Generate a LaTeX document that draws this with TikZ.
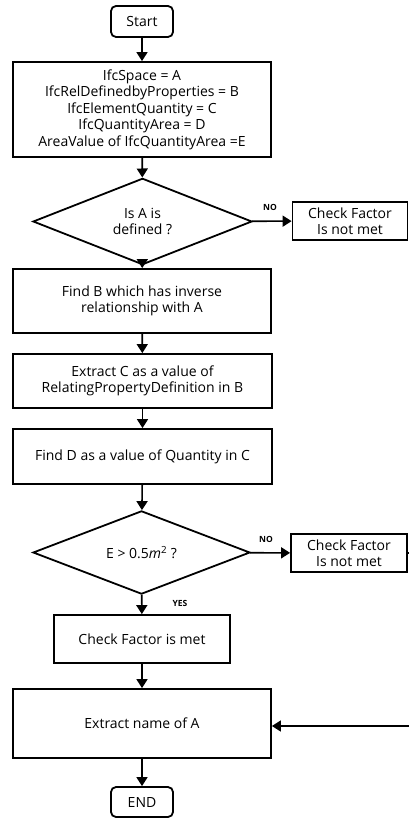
\documentclass[tikz,border=0pt]{standalone}
\usepackage{fontspec}
\setmainfont{Open Sans}
\usetikzlibrary{shapes.geometric,arrows.meta}
\begin{document}
\begin{tikzpicture}[x=1pt,y=-1pt,
  box/.style={draw,line width=1.8pt,rectangle,align=center,inner sep=1pt,font=\fontsize{14}{16.5}\selectfont},
  term/.style={box,rounded corners=5pt},
  dec/.style={draw,line width=1.8pt,diamond,inner sep=0pt,align=center,font=\fontsize{14}{16.5}\selectfont},
  arr/.style={line width=1.6pt,-{Triangle[length=9pt,width=11pt]}},
  lab/.style={font=\fontsize{8.5}{10}\selectfont\bfseries}]
\useasboundingbox (0,0) rectangle (409,818);
\node[term,minimum width=62pt,minimum height=31pt] (start) at (142,21.5) {Start};
\node[box,minimum width=258pt,minimum height=95pt] (b1) at (142,109.5) {IfcSpace = A\\IfcRelDefinedbyProperties = B\\IfcElementQuantity = C\\IfcQuantityArea = D\\AreaValue of IfcQuantityArea =E};
\node[dec,minimum width=219pt,minimum height=73pt] (d1) at (142.5,221.5) {Is A is\\defined ?};
\node[box,minimum width=115pt,minimum height=38pt] (cf1) at (350,221) {Check Factor\\Is not met};
\node[box,minimum width=258pt,minimum height=64pt] (b2) at (142,301) {Find B which has inverse\\relationship with A};
\node[box,minimum width=259pt,minimum height=54pt] (b3) at (142.5,381) {Extract C as a value of\\RelatingPropertyDefinition in B};
\node[box,minimum width=259pt,minimum height=55pt] (b4) at (142.5,456.5) {Find D as a value of Quantity in C};
\node[dec,minimum width=217pt,minimum height=75pt] (d2) at (141.5,552.5) {E > 0.5\textit{m}\textsuperscript{2} ?};
\node[box,minimum width=116pt,minimum height=38pt] (cf2) at (349,553) {Check Factor\\Is not met};
\node[box,minimum width=176pt,minimum height=48pt] (b5) at (142,639) {Check Factor is met};
\node[box,minimum width=258pt,minimum height=69pt] (b6) at (142,723.5) {Extract name of A};
\node[term,minimum width=62pt,minimum height=30pt] (end) at (142,802) {END};
\coordinate (in6) at (409,726);
\coordinate (out2) at (409,553);
\node[lab] (no1) at (270,207) {NO};
\node[lab] (no2) at (266,539) {NO};
\node[lab] (yes) at (180,603) {YES};
\draw[arr] (start) -- (b1);
\draw[arr] (b1) -- (d1);
\draw[arr] (d1) -- (cf1);
\draw[arr] (d1) -- (b2);
\draw[arr] (b2) -- (b3);
\draw[arr] (b3) -- (b4);
\draw[arr] (b4) -- (d2);
\draw[arr] (d2) -- (cf2);
\draw[line width=1.6pt] (cf2.east) -- (out2);
\draw[arr] (d2) -- (b5);
\draw[arr] (b5) -- (b6);
\draw[arr] (in6) -- (in6 -| b6.east);
\draw[arr] (b6) -- (end);
\end{tikzpicture}
\end{document}
